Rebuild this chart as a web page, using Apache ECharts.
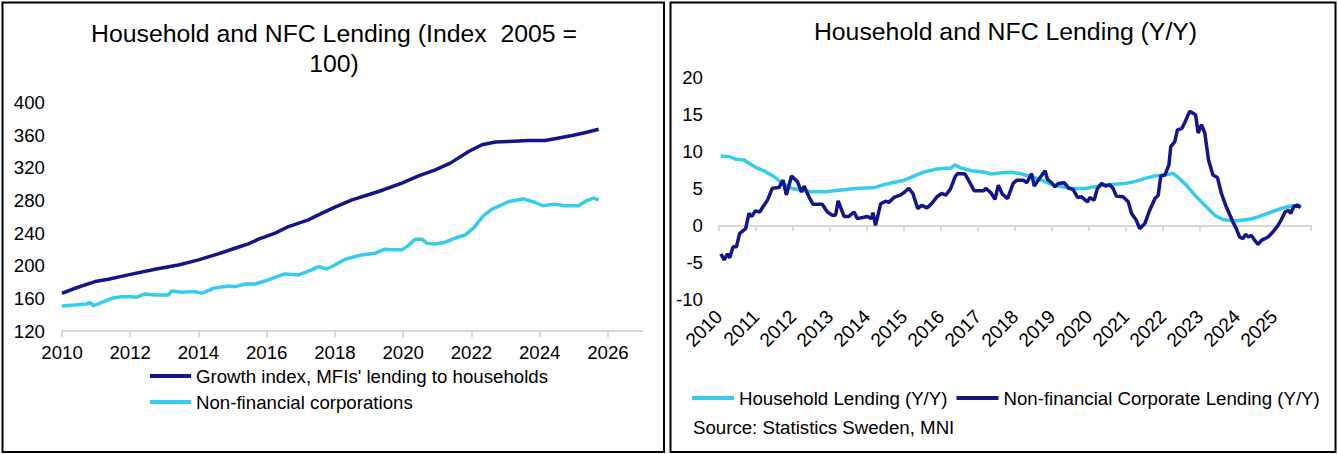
<!DOCTYPE html>
<html>
<head>
<meta charset="utf-8">
<script src="https://cdn.jsdelivr.net/npm/echarts@6/dist/echarts.min.js"></script>
<style>
html,body{margin:0;padding:0;background:#fff;}
#c{width:1338px;height:454px;}
</style>
</head>
<body>
<div id="c"></div>
<script>
// ---- Left chart: index levels (Index 2005 = 100) ----
const hhIdxT = [2010.0,2010.38,2010.97,2011.36,2011.94,2012.73,2013.41,2014.0,2014.58,2015.07,2015.46,2015.76,2016.25,2016.64,2017.22,2017.62,2018.0,2018.5,2019.28,2019.96,2020.45,2020.94,2021.38,2021.92,2022.31,2022.7,2023.09,2023.68,2024.16,2024.56,2024.95,2025.29,2025.73];
const hhIdxV = [166.3,172.4,180.6,183.5,188.8,195.8,201.0,207.2,214.6,221.5,226.8,232.6,240,248.1,256.3,264.5,271.9,280.9,291.1,301.4,310.3,317.7,325.9,340.2,348.4,351.7,352.5,353.7,353.7,356.6,359.8,362.8,367.5];

const nfcIdxT = [2010.0,2010.38,2010.72,2010.82,2010.92,2011.06,2011.46,2011.75,2012.04,2012.19,2012.43,2012.73,2013.12,2013.22,2013.51,2013.9,2014.1,2014.44,2014.88,2015.07,2015.37,2015.66,2016.05,2016.3,2016.54,2016.93,2017.32,2017.52,2017.76,2018.0,2018.3,2018.79,2019.18,2019.47,2019.72,2019.96,2020.11,2020.35,2020.55,2020.69,2020.94,2021.23,2021.52,2021.82,2022.06,2022.35,2022.6,2022.89,2023.09,2023.28,2023.53,2023.87,2024.11,2024.41,2024.75,2025.14,2025.38,2025.58,2025.73];
const nfcIdxV = [150.7,151.9,153.2,154.8,151.1,153.2,160.1,162.1,162.1,161.4,165.4,164.2,164.2,169.1,167.5,168.3,166.3,172.4,175.3,174.4,177.7,177.7,182.6,186.7,190.0,188.8,194.9,199.0,196.1,201,208,213.3,215.4,220.3,219.5,219.5,223.5,232.6,232.6,227.7,226.8,228.9,233.8,237.9,246.1,261.2,269.4,274.7,278.8,280,282.1,277.6,273.5,275.6,273.5,273.5,280,283,280.9];

// ---- Right chart: Y/Y growth ----
const hhYoYT = [2010.05,2010.28,2010.45,2010.68,2010.81,2010.99,2011.26,2011.49,2011.71,2011.98,2012.25,2012.52,2012.88,2013.24,2013.69,2014.23,2014.41,2014.68,2014.95,2015.22,2015.57,2015.84,2016.11,2016.25,2016.38,2016.56,2016.83,2017.19,2017.37,2017.64,2017.91,2018.18,2018.45,2018.72,2018.99,2019.26,2019.53,2019.89,2020.16,2020.43,2020.97,2021.24,2021.51,2021.78,2022.05,2022.27,2022.41,2022.63,2022.86,2023.13,2023.4,2023.62,2023.94,2024.3,2024.57,2024.93,2025.2,2025.42,2025.72];
const hhYoYV = [9.37,9.28,8.93,8.83,8.38,7.84,7.24,6.56,5.66,4.98,4.75,4.52,4.52,4.75,4.98,5.12,5.43,5.75,6.02,6.56,7.24,7.56,7.7,7.7,8.15,7.7,7.38,7.16,6.93,7.1,7.16,6.93,6.56,6.1,5.53,5.2,4.98,4.98,5.2,5.43,5.66,5.9,6.34,6.66,6.79,7.02,6.47,5.43,4.07,2.72,1.36,0.77,0.58,0.77,1.13,1.8,2.27,2.58,2.72];

const nfcYoYT = [2010.05,2010.14,2010.23,2010.29,2010.38,2010.47,2010.56,2010.72,2010.81,2010.89,2010.98,2011.1,2011.19,2011.31,2011.44,2011.62,2011.73,2011.82,2011.96,2012.12,2012.23,2012.3,2012.43,2012.54,2012.79,2012.93,2013.06,2013.15,2013.22,2013.38,2013.51,2013.65,2013.74,2014.01,2014.12,2014.16,2014.23,2014.37,2014.5,2014.59,2014.73,2014.9,2015.02,2015.13,2015.24,2015.37,2015.48,2015.62,2015.75,2015.89,2016.02,2016.13,2016.25,2016.38,2016.45,2016.65,2016.79,2016.9,2017.15,2017.21,2017.35,2017.46,2017.55,2017.66,2017.8,2017.95,2018.05,2018.22,2018.32,2018.45,2018.52,2018.67,2018.81,2018.88,2018.99,2019.08,2019.17,2019.33,2019.46,2019.57,2019.69,2019.8,2019.96,2020.02,2020.14,2020.23,2020.34,2020.45,2020.56,2020.65,2020.74,2020.92,2021.06,2021.15,2021.28,2021.37,2021.51,2021.64,2021.78,2021.87,2021.94,2022.05,2022.16,2022.21,2022.32,2022.39,2022.51,2022.6,2022.72,2022.88,2022.95,2023.04,2023.13,2023.23,2023.35,2023.47,2023.58,2023.71,2023.89,2023.98,2024.07,2024.16,2024.23,2024.31,2024.39,2024.48,2024.57,2024.66,2024.84,2024.97,2025.09,2025.2,2025.3,2025.39,2025.45,2025.54,2025.63,2025.72];
const nfcYoYV = [-3.85,-4.66,-3.85,-4.4,-2.9,-2.9,-1.1,-0.45,1.6,1.2,1.95,1.8,2.5,3.4,5.0,5.1,6.1,4.1,6.66,5.9,4.5,5.3,3.85,2.85,2.85,1.8,1.36,1.36,3.3,1.2,1.2,1.8,0.9,1.2,0.9,1.7,0,2.9,3.26,3.1,3.76,4.07,4.5,5.0,4.3,2.27,2.7,2.35,2.95,3.85,4.3,4.07,4.85,6.56,7.0,6.93,5.66,4.66,4.66,4.98,4.4,3.5,5.43,4.2,3.6,5.66,6.1,6.1,5.75,7.0,5.3,6.4,7.38,6.2,5.75,5.2,5.66,5.75,5.0,4.85,3.76,3.85,3.17,3.76,3.4,5.0,5.66,5.3,5.5,5.0,3.94,3.85,3.17,1.6,0.68,-0.45,0.23,2.04,3.6,4.07,6.66,6.79,8.15,10.64,11.3,12.9,13.1,14.0,15.4,14.95,12.46,13.6,12.46,8.83,6.79,6.47,4.3,2.5,0.45,-0.45,-1.58,-1.8,-1.22,-1.58,-1.36,-2.04,-2.58,-2.04,-1.58,-0.9,-0.14,0.77,1.8,2.04,1.6,2.58,2.72,2.4];

// tick labels
const leftXTicks = [2010,2012,2014,2016,2018,2020,2022,2024,2026];
const rightXTicks = [2010,2011,2012,2013,2014,2015,2016,2017,2018,2019,2020,2021,2022,2023,2024,2025];

const titleLeft1 = 'Household and NFC Lending (Index  2005 =';
const titleLeft2 = '100)';
const titleRight = 'Household and NFC Lending (Y/Y)';
const sourceText = 'Source: Statistics Sweden, MNI';
const nameHHIdx = "Growth index, MFIs' lending to households";
const nameNFCIdx = 'Non-financial corporations';
const nameHHYoY = 'Household Lending (Y/Y)';
const nameNFCYoY = 'Non-financial Corporate Lending (Y/Y)';

const DARK = '#12168a';
const LIGHT = '#35cdee';
const FONT = '"Liberation Sans", Arial, sans-serif';
const FS = 18.67;
const TFS = 24.8;

function zip(t, v) { return t.map((x, i) => [x, v[i]]); }

const chart = echarts.init(document.getElementById('c'), null, {renderer: 'svg'});
const gray = '#d9d9d9';

const option = {
  animation: false,
  textStyle: {fontFamily: FONT, color: '#000'},
  grid: [
    {left: 62, top: 102.7, width: 580, height: 228.3},
    {left: 719, top: 77.3, width: 592, height: 222}
  ],
  xAxis: [
    {
      gridIndex: 0, type: 'value', min: 2010, max: 2027, interval: 1,
      axisLine: {show: true, lineStyle: {color: gray, width: 2}},
      axisTick: {show: true, length: 6, lineStyle: {color: gray, width: 2}, customValues: leftXTicks},
      axisLabel: {fontSize: FS, color: '#000', fontFamily: FONT, margin: 12, customValues: leftXTicks, formatter: v => String(v)},
      splitLine: {show: false}
    },
    {
      gridIndex: 1, type: 'value', min: 2010, max: 2026, interval: 1, position: 'bottom',
      axisLine: {show: false, onZero: false},
      axisTick: {show: false},
      axisLabel: {fontSize: 19.2, color: '#000', fontFamily: FONT, rotate: 45, margin: 14, customValues: rightXTicks, formatter: v => String(v)},
      splitLine: {show: false}
    },
    {
      gridIndex: 1, type: 'value', min: 2010, max: 2026, interval: 1, position: 'top',
      axisLine: {show: true, onZero: true, lineStyle: {color: gray, width: 2}},
      axisTick: {show: true, inside: true, length: 6, lineStyle: {color: gray, width: 2}},
      axisLabel: {show: false},
      splitLine: {show: false}
    }
  ],
  yAxis: [
    {
      gridIndex: 0, type: 'value', min: 120, max: 400, interval: 40,
      axisLine: {show: false}, axisTick: {show: false}, splitLine: {show: false},
      axisLabel: {fontSize: FS, color: '#000', fontFamily: FONT, margin: 17}
    },
    {
      gridIndex: 1, type: 'value', min: -10, max: 20, interval: 5,
      axisLine: {show: false}, axisTick: {show: false}, splitLine: {show: false},
      axisLabel: {fontSize: FS, color: '#000', fontFamily: FONT, margin: 16}
    }
  ],
  legend: [
    {
      orient: 'vertical', left: 145, top: 361, itemGap: 6,
      itemWidth: 41, itemHeight: 4, icon: 'rect',
      textStyle: {fontSize: FS, color: '#000', fontFamily: FONT, lineHeight: 20},
      data: [nameHHIdx, nameNFCIdx]
    },
    {
      orient: 'horizontal', left: 687, top: 383, itemGap: 9,
      itemWidth: 42, itemHeight: 4, icon: 'rect',
      textStyle: {fontSize: FS, color: '#000', fontFamily: FONT, lineHeight: 20},
      data: [nameHHYoY, nameNFCYoY]
    }
  ],
  graphic: [
    {type: 'rect', shape: {x: 2.5, y: 2.5, width: 661.5, height: 449.5}, style: {fill: 'none', stroke: '#000', lineWidth: 2}, silent: true},
    {type: 'rect', shape: {x: 670.5, y: 2.5, width: 665, height: 449.5}, style: {fill: 'none', stroke: '#000', lineWidth: 2}, silent: true},
    {type: 'text', x: 334, y: 33, style: {text: titleLeft1, font: TFS + 'px ' + FONT, fill: '#000', textAlign: 'center', textVerticalAlign: 'middle'}},
    {type: 'text', x: 334, y: 63, style: {text: titleLeft2, font: TFS + 'px ' + FONT, fill: '#000', textAlign: 'center', textVerticalAlign: 'middle'}},
    {type: 'text', x: 1005.5, y: 31, style: {text: titleRight, font: TFS + 'px ' + FONT, fill: '#000', textAlign: 'center', textVerticalAlign: 'middle'}},
    {type: 'text', x: 693, y: 427, style: {text: sourceText, font: FS + 'px ' + FONT, fill: '#000', textAlign: 'left', textVerticalAlign: 'middle'}}
  ],
  series: [
    {name: nameNFCIdx, type: 'line', xAxisIndex: 0, yAxisIndex: 0, data: zip(nfcIdxT, nfcIdxV), showSymbol: false, lineStyle: {color: LIGHT, width: 3.5}, itemStyle: {color: LIGHT}},
    {name: nameHHIdx, type: 'line', xAxisIndex: 0, yAxisIndex: 0, data: zip(hhIdxT, hhIdxV), showSymbol: false, lineStyle: {color: DARK, width: 3.5}, itemStyle: {color: DARK}},
    {name: nameHHYoY, type: 'line', xAxisIndex: 1, yAxisIndex: 1, data: zip(hhYoYT, hhYoYV), showSymbol: false, lineStyle: {color: LIGHT, width: 3.5}, itemStyle: {color: LIGHT}},
    {name: nameNFCYoY, type: 'line', xAxisIndex: 1, yAxisIndex: 1, data: zip(nfcYoYT, nfcYoYV), showSymbol: false, lineStyle: {color: DARK, width: 3.5}, itemStyle: {color: DARK}}
  ]
};
chart.setOption(option);
</script>
</body>
</html>
